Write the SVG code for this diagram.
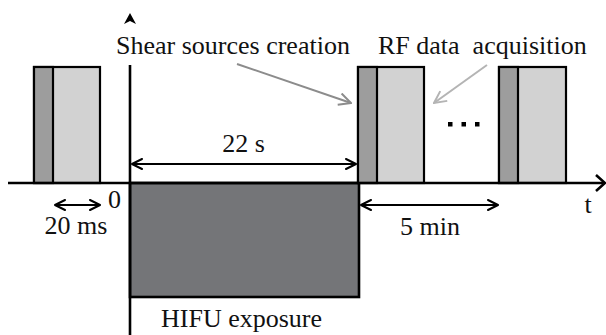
<svg xmlns="http://www.w3.org/2000/svg" width="606" height="335" viewBox="0 0 606 335">
<style>
.lbl{font-family:"Times New Roman",Times,Tinos,"Liberation Serif","DejaVu Serif","Noto Serif",FreeSerif,serif;font-size:26px;fill:#111;}
.blk{stroke:#000;stroke-width:2.2;}
.dark{fill:#9d9d9d;}
.light{fill:#d2d2d2;}
.ax{stroke:#000;stroke-width:2.6;fill:none;}
.dim{stroke:#000;stroke-width:2;fill:none;}
</style>
<defs>
<marker id="open" viewBox="0 0 12 12" refX="11" refY="6" markerWidth="12" markerHeight="12" markerUnits="userSpaceOnUse" orient="auto-start-reverse">
<path d="M1,1 L11,6 L1,11" fill="none" stroke="#000" stroke-width="2" stroke-linecap="round" stroke-linejoin="round"/>
</marker>
<marker id="gray1" viewBox="0 0 14 14" refX="13" refY="7" markerWidth="14" markerHeight="14" markerUnits="userSpaceOnUse" orient="auto">
<path d="M1,1 L13,7 L1,13" fill="none" stroke="#8c8c8c" stroke-width="2"/>
</marker>
<marker id="gray2" viewBox="0 0 14 14" refX="13" refY="7" markerWidth="14" markerHeight="14" markerUnits="userSpaceOnUse" orient="auto">
<path d="M1,1 L13,7 L1,13" fill="none" stroke="#b4b4b4" stroke-width="2"/>
</marker>
</defs>
<rect width="606" height="335" fill="#fff"/>

<g id="hifu">
<rect x="130" y="183" width="229" height="114" fill="#747578" stroke="#000" stroke-width="2.6"/>
</g>

<g id="pulse1">
<rect class="blk light" x="34" y="67" width="66" height="116"/>
<rect class="blk dark" x="34" y="67" width="19" height="116"/>
</g>
<g id="pulse2">
<rect class="blk light" x="358" y="67" width="66" height="116"/>
<rect class="blk dark" x="358" y="67" width="19" height="116"/>
</g>
<g id="pulse3">
<rect class="blk light" x="499" y="67" width="67" height="116"/>
<rect class="blk dark" x="499" y="67" width="19" height="116"/>
</g>

<g id="axes">
<line class="ax" x1="130" y1="65" x2="130" y2="335"/>
<path d="M130,13 L136,24 L130,21 L124,24 Z" fill="#000"/>
<line class="ax" x1="8" y1="183" x2="603" y2="183"/>
<path class="ax" d="M596,175 L605,183 L596,191"/>
</g>

<g id="connectors">
<line class="dim" x1="132" y1="164" x2="356" y2="164" marker-start="url(#open)" marker-end="url(#open)"/>
<line class="dim" x1="361" y1="205" x2="498" y2="205" marker-start="url(#open)" marker-end="url(#open)"/>
<line class="dim" x1="55" y1="205" x2="100" y2="205" marker-start="url(#open)" marker-end="url(#open)"/>
<line x1="237" y1="64" x2="351" y2="103" stroke="#8c8c8c" stroke-width="2" marker-end="url(#gray1)"/>
<line x1="487" y1="65" x2="434" y2="103" stroke="#b4b4b4" stroke-width="2" marker-end="url(#gray2)"/>
</g>

<g id="dots" fill="#000">
<rect x="448" y="122" width="4.5" height="4.5"/>
<rect x="461.5" y="122" width="4.5" height="4.5"/>
<rect x="475" y="122" width="4.5" height="4.5"/>
</g>

<g id="labels" class="lbl">
<text x="116" y="54">Shear sources creation</text>
<text x="378" y="54" xml:space="preserve">RF data  acquisition</text>
<text x="243.5" y="152" text-anchor="middle">22 s</text>
<text x="430" y="235" text-anchor="middle">5 min</text>
<text x="76" y="234" text-anchor="middle">20 ms</text>
<text x="114.5" y="208" text-anchor="middle">0</text>
<text x="588" y="213" text-anchor="middle">t</text>
<text x="161" y="327">HIFU exposure</text>
</g>
</svg>
